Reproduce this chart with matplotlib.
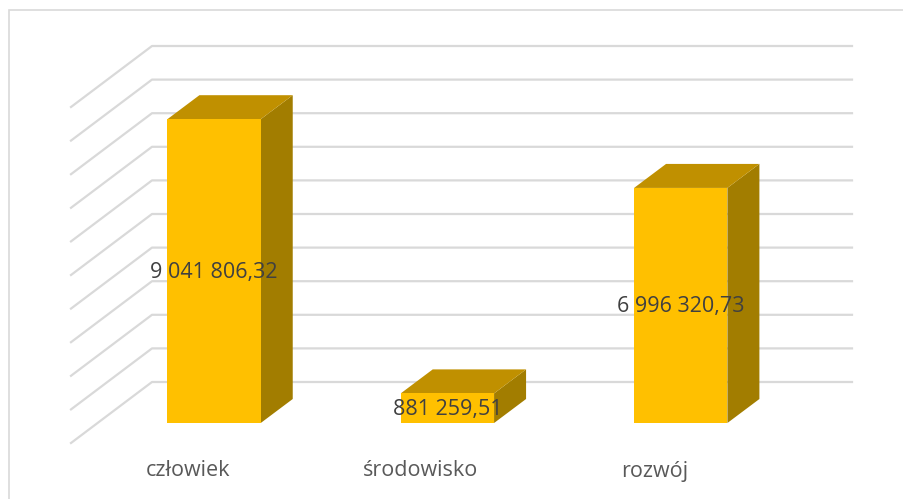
import matplotlib
matplotlib.use("Agg")
import matplotlib.pyplot as plt
import numpy as np
from matplotlib.patches import Polygon, Rectangle
from matplotlib.lines import Line2D

categories = ["człowiek", "środowisko", "rozwój"]
values = [9041806.32, 881259.51, 6996320.73]
labels = ["9 041 806,32", "881 259,51", "6 996 320,73"]
y_ticks = list(range(0, 10000001, 1000000))

W, H, DPI = 904, 499, 100
fig = plt.figure(figsize=(W / DPI, H / DPI), dpi=DPI)
fig.patch.set_facecolor("white")

# back wall axes
ax = fig.add_axes([152 / W, (H - 382) / H, 700 / W, 336 / H])
ax.set_xlim(0, 3)
ax.set_ylim(0, 10000000)
ax.axis("off")

# depth geometry (display pixels, y up)
DEPTH = np.array([-81.0, -61.0])       # back wall -> front of floor
BACK = np.array([-22.6, -17.0])        # back wall -> back face of bar
FRONT = np.array([-54.6, -41.0])       # back wall -> front face of bar

grid_c = "#D9D9D9"
fig.canvas.draw()
T = ax.transData

def disp(x, y, off):
    p = T.transform((x, y))
    return (p[0] + off[0], p[1] + off[1])

# gridlines: back wall horizontals + side wall diagonals
for v in y_ticks:
    p0 = disp(0, v, (0, 0))
    p1 = disp(3, v, (0, 0))
    p2 = disp(0, v, DEPTH)
    fig.add_artist(Line2D([p2[0], p0[0], p1[0]], [p2[1], p0[1], p1[1]],
                          transform=None, color=grid_c, lw=1.6, zorder=1))

front_c = "#FFC000"
top_c = "#C09000"
side_c = "#A27D00"
half = 0.2
for i, v in enumerate(values):
    xc = i + 0.5
    fbl = disp(xc - half, 0, FRONT)
    fbr = disp(xc + half, 0, FRONT)
    ftl = disp(xc - half, v, FRONT)
    ftr = disp(xc + half, v, FRONT)
    btl = disp(xc - half, v, BACK)
    btr = disp(xc + half, v, BACK)
    bbr = disp(xc + half, 0, BACK)
    fig.add_artist(Polygon([ftr, btr, bbr, fbr], closed=True, transform=None,
                           facecolor=side_c, edgecolor="none", zorder=3))
    fig.add_artist(Polygon([ftl, ftr, btr, btl], closed=True, transform=None,
                           facecolor=top_c, edgecolor="none", zorder=3))
    fig.add_artist(Polygon([fbl, fbr, ftr, ftl], closed=True, transform=None,
                           facecolor=front_c, edgecolor="none", zorder=4))
    mid = disp(xc, v / 2, FRONT)
    fig.text(mid[0] / W, (mid[1] - 1.5) / H, labels[i], ha="center", va="center",
             fontsize=15.5, family="Open Sans", color="#404040", zorder=5)
    cl = disp(xc, 0, DEPTH)
    fig.text(cl[0] / W, (cl[1] - 28) / H, categories[i], ha="center", va="center",
             fontsize=15.5, family="Open Sans", color="#595959", zorder=5)

# chart area border
fig.add_artist(Rectangle((9 / W, -0.05), 1.2, (H - 10) / H + 0.05,
                         transform=fig.transFigure, fill=False,
                         edgecolor=grid_c, lw=1.2, zorder=0))

fig.savefig("out.png", dpi=DPI, facecolor="white")
